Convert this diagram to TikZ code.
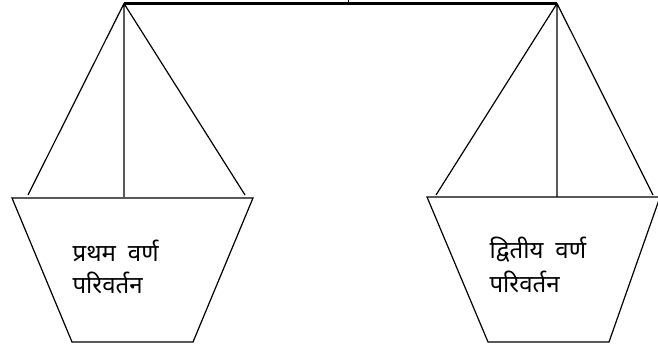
\documentclass[tikz,border=0pt]{standalone}
\usepackage{fontspec}
\newfontfamily\devfont[Script=Devanagari]{Noto Sans}
\usetikzlibrary{positioning}

\begin{document}
\begin{tikzpicture}[x=1pt, y=-1pt, line width=1.2pt, line join=miter,
    every node/.style={align=left, inner sep=0pt},
    pantext/.style={anchor=base west, font=\devfont\fontsize{24}{32}\selectfont}]
  \useasboundingbox (0,0) rectangle (658,352);
  % beam
  \coordinate (lapex) at (124,3.5);
  \coordinate (rapex) at (557,3.5);
  \draw[line width=2.2pt] (lapex) -- (rapex);
  \draw[line width=1pt] (348,3.5) -- (348,0);
  % left pan
  \draw (lapex) -- (28,195) (lapex) -- (124,197) (lapex) -- (245,195);
  \draw (12,198) -- (253,198) -- (193,342) -- (72,342) -- cycle;
  \node[pantext] (lefttext) at (72,294) {प्रथम\hspace{12pt}वर्ण\\परिवर्तन};
  % right pan
  \draw (rapex) -- (436,195) (rapex) -- (557,197) (rapex) -- (653,195);
  \draw (427,197) -- (660,197) -- (609,342) -- (488,342) -- cycle;
  \node[pantext] (righttext) at (489,293) {द्वितीय\hspace{12pt}वर्ण\\[2pt]परिवर्तन};
\end{tikzpicture}
\end{document}
